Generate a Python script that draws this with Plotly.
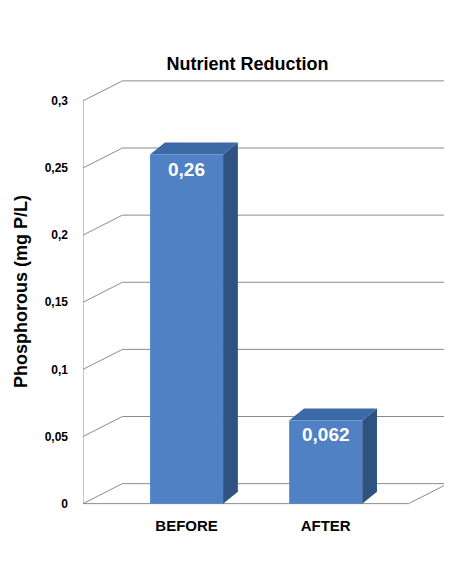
import plotly.graph_objects as go

categories = ["BEFORE", "AFTER"]
values = [0.26, 0.062]
value_labels = ["0,26", "0,062"]
y_ticks = [0, 0.05, 0.1, 0.15, 0.2, 0.25, 0.3]
y_tick_labels = ["0", "0,05", "0,1", "0,15", "0,2", "0,25", "0,3"]

K = 1343.0  # px per unit
WALL_DX, WALL_DY = 40, 20 / K
BAR_DX, BAR_DY = 15, 12 / K
BAR_W = 74
X0, STEP = 105, 141
XMAX = 370

fig = go.Figure()
grid = dict(color="#8c8c8c", width=1)

fig.add_trace(go.Scatter(x=[0, XMAX - WALL_DX, XMAX, WALL_DX, 0], y=[0, 0, WALL_DY, WALL_DY, 0],
                         mode="lines", line=grid, hoverinfo="skip", showlegend=False))
for v in y_ticks[1:]:
    fig.add_trace(go.Scatter(x=[0, WALL_DX, XMAX], y=[v, v + WALL_DY, v + WALL_DY],
                             mode="lines", line=grid, hoverinfo="skip", showlegend=False))
fig.add_trace(go.Scatter(x=[0, 0], y=[0, y_ticks[-1]], mode="lines", line=grid,
                         hoverinfo="skip", showlegend=False))

for i, (c, v, lab) in enumerate(zip(categories, values, value_labels)):
    cx = X0 + i * STEP
    l, r = cx - BAR_W / 2, cx + BAR_W / 2
    fig.add_trace(go.Scatter(x=[r, r + BAR_DX, r + BAR_DX, r, r], y=[0, BAR_DY, v + BAR_DY, v, 0],
                             fill="toself", fillcolor="#2f5280", mode="lines",
                             line=dict(width=0), hoverinfo="skip", showlegend=False))
    fig.add_trace(go.Scatter(x=[l, r, r + BAR_DX, l + BAR_DX, l], y=[v, v, v + BAR_DY, v + BAR_DY, v],
                             fill="toself", fillcolor="#3c6aa6", mode="lines",
                             line=dict(width=0), hoverinfo="skip", showlegend=False))
    fig.add_trace(go.Scatter(x=[l, r, r, l, l], y=[0, 0, v, v, 0],
                             fill="toself", fillcolor="#4f81c4", mode="lines",
                             line=dict(width=0), hoverinfo="skip", showlegend=False))
    fig.add_annotation(x=cx, y=v, yshift=-2, text=lab, showarrow=False, yanchor="top",
                       font=dict(color="white", size=19, family="Liberation Sans", weight="bold"))

fig.update_layout(
    width=452, height=584, plot_bgcolor="white", paper_bgcolor="white",
    margin=dict(l=70, r=12, t=66, b=83),
    title=dict(text="<b>Nutrient Reduction</b>", x=0.53, xanchor="center", y=0.905, yanchor="middle",
               font=dict(size=18, color="black", family="Liberation Sans")),
    font=dict(family="Liberation Sans", color="black"),
    xaxis=dict(range=[0, XMAX], tickvals=[X0 + i * STEP for i in range(len(categories))],
               ticktext=["<b>%s</b>" % c for c in categories], showgrid=False, zeroline=False,
               showline=False, ticks="", tickfont=dict(size=15), ticklabelstandoff=6),
    yaxis=dict(range=[-0.004, 0.32], tickvals=y_ticks,
               ticktext=["<b>%s</b>" % t for t in y_tick_labels], showgrid=False, zeroline=False,
               showline=False, ticks="", tickfont=dict(size=12), ticklabelstandoff=14,
               title=dict(text="<b>Phosphorous (mg P/L)</b>", font=dict(size=18), standoff=12)),
)
fig.write_html("out.html")
